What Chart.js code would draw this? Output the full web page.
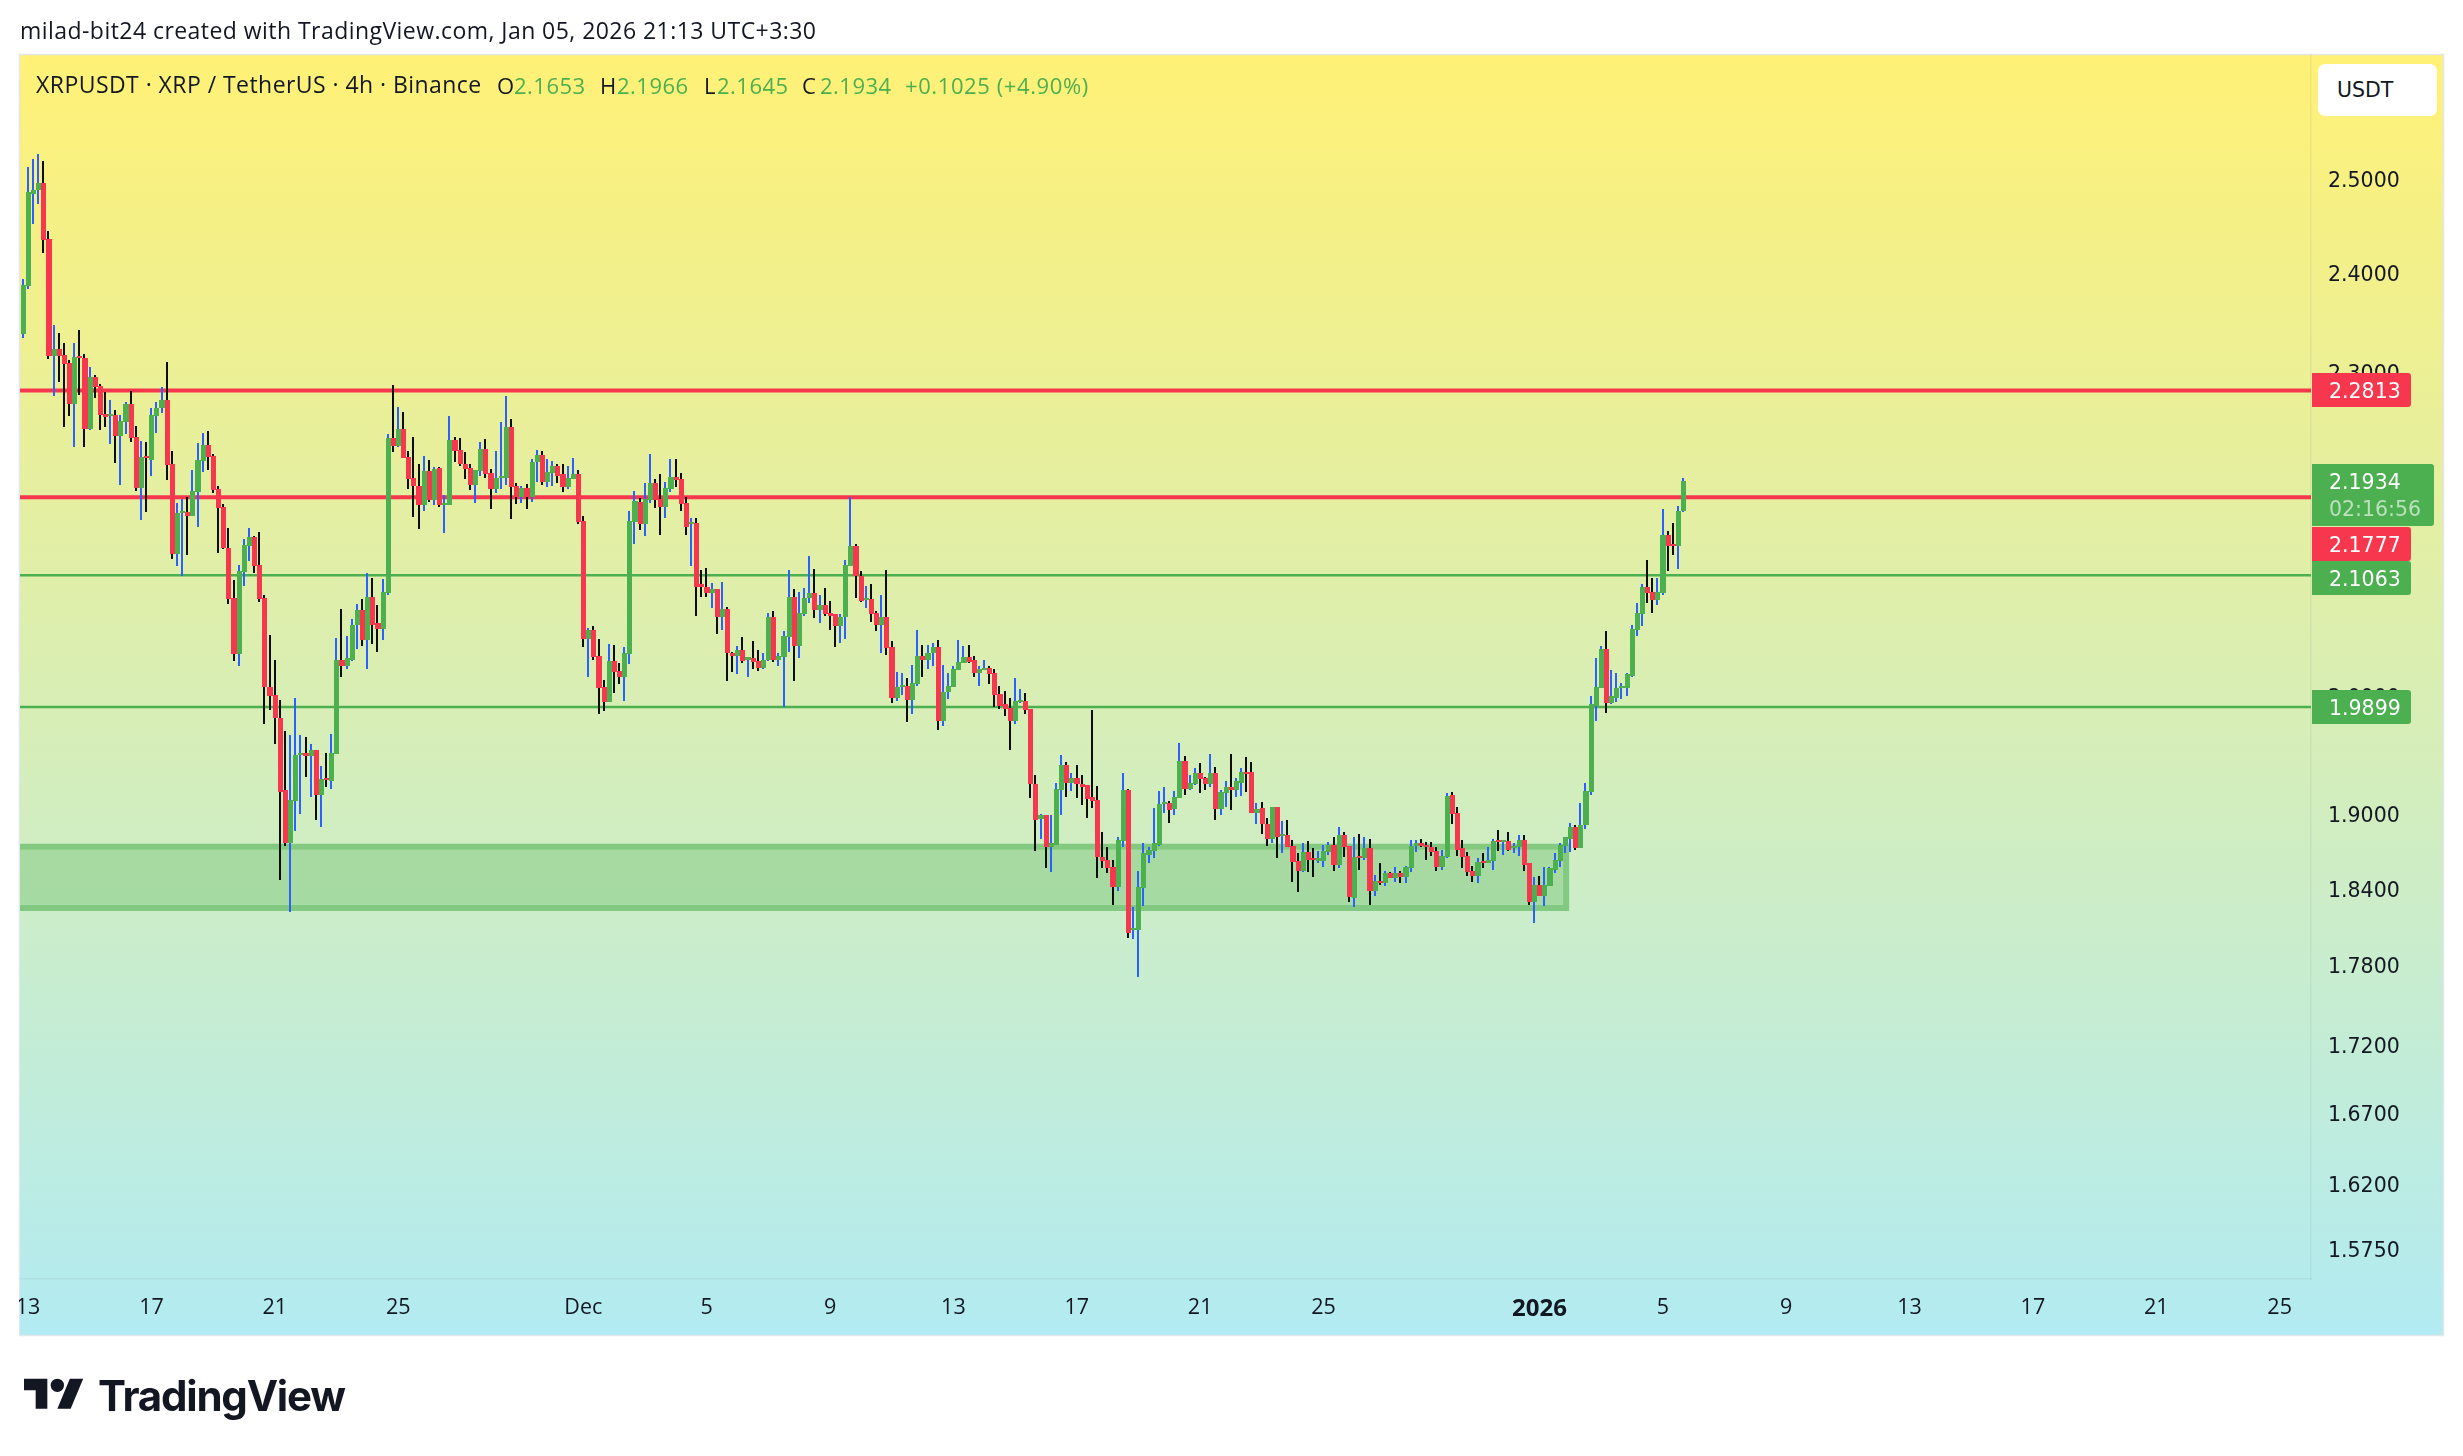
<!DOCTYPE html>
<html><head><meta charset="utf-8">
<style>
html,body{margin:0;padding:0;background:#fff;width:2463px;height:1456px;overflow:hidden}
#wrap{position:relative;width:2463px;height:1456px}
canvas{position:absolute;left:0;top:0}
.t{position:absolute;white-space:pre;font-family:"Open Sans",sans-serif;color:#131722;line-height:1;top:74px;font-size:22px}
.m{font-size:23px;letter-spacing:.45px}
.n{letter-spacing:.5px}
.g{color:#4caf50}
#usdt{position:absolute;left:2318px;top:64px;width:119px;height:52px;background:#fff;border-radius:7px;font:20.5px "DejaVu Sans",sans-serif;color:#131722;line-height:52px;padding-left:19px;box-sizing:border-box}
</style></head><body>
<div id="wrap">
<canvas id="c" width="2463" height="1456" style="width:2463px;height:1456px"></canvas>
<div class="t m" id="hdr" style="left:20px;top:19px">milad-bit24 created with TradingView.com, Jan 05, 2026 21:13 UTC+3:30</div>
<div class="t m" style="left:36px;top:73px">XRPUSDT · XRP / TetherUS · 4h · Binance</div>
<div class="t" style="left:497px">O</div><div class="t g n" style="left:514px">2.1653</div>
<div class="t" style="left:600px">H</div><div class="t g n" style="left:617px">2.1966</div>
<div class="t" style="left:704px">L</div><div class="t g n" style="left:717px">2.1645</div>
<div class="t" style="left:802px">C</div><div class="t g n" style="left:820px">2.1934</div>
<div class="t g" style="left:905px;letter-spacing:.6px">+0.1025 (+4.90%)</div>
<div id="usdt">USDT</div>
<svg style="position:absolute;left:24px;top:1372px" width="60" height="44" viewBox="0 0 36 26.4"><path fill="#131722" fill-rule="evenodd" d="M14 22H7V11H0V4h14v18zM28 22h-8l7.5-18h8L28 22z"/><circle fill="#131722" cx="20" cy="8" r="4"/></svg>
<div class="t" style="left:98px;top:1375px;font-family:Inter,sans-serif;font-weight:700;font-size:42px;letter-spacing:-1.2px">TradingView</div>
</div>
<script src="https://cdn.jsdelivr.net/npm/chart.js@4"></script>
<script>
const opens=[2.338,2.387,2.483,2.487,2.495,2.435,2.315,2.322,2.316,2.308,
2.268,2.315,2.313,2.244,2.295,2.286,2.258,2.256,2.257,2.237,
2.250,2.268,2.236,2.187,2.218,2.214,2.256,2.264,2.272,2.210,
2.126,2.164,2.165,2.161,2.183,2.213,2.228,2.218,2.186,2.169,
2.131,2.086,2.036,2.109,2.133,2.141,2.116,2.086,2.007,2.000,
1.980,1.920,1.876,1.911,1.949,1.951,1.948,1.953,1.916,1.930,
1.927,1.950,2.031,2.025,2.031,2.062,2.075,2.048,2.087,2.063,
2.058,2.090,2.235,2.227,2.244,2.217,2.197,2.189,2.171,2.203,
2.176,2.206,2.171,2.171,2.233,2.223,2.210,2.206,2.190,2.203,
2.224,2.201,2.186,2.197,2.197,2.246,2.189,2.179,2.187,2.179,
2.212,2.219,2.193,2.201,2.208,2.200,2.188,2.196,2.200,2.156,
2.049,2.057,2.034,2.007,1.994,2.030,2.021,2.016,2.036,2.155,
2.174,2.153,2.176,2.192,2.177,2.169,2.186,2.198,2.196,2.173,
2.153,2.154,2.098,2.096,2.090,2.094,2.069,2.076,2.037,2.034,
2.039,2.031,2.032,2.030,2.024,2.031,2.069,2.031,2.033,2.051,
2.087,2.043,2.071,2.086,2.090,2.075,2.079,2.072,2.071,2.061,
2.069,2.115,2.133,2.106,2.084,2.085,2.072,2.062,2.069,2.042,
1.998,2.008,2.008,1.996,2.010,2.034,2.031,2.037,2.042,1.978,
2.003,2.007,2.022,2.028,2.033,2.031,2.019,2.022,2.024,2.019,
2.001,1.992,1.989,1.978,1.994,1.995,1.988,1.925,1.896,1.899,
1.873,1.875,1.920,1.941,1.926,1.930,1.925,1.924,1.914,1.9115,
1.865,1.863,1.857,1.841,1.878,1.920,1.807,1.807,1.840,1.867,
1.870,1.875,1.908,1.909,1.904,1.913,1.944,1.921,1.925,1.934,
1.930,1.925,1.934,1.904,1.917,1.922,1.920,1.926,1.935,1.935,
1.901,1.905,1.892,1.880,1.906,1.882,1.883,1.874,1.862,1.854,
1.869,1.864,1.862,1.862,1.869,1.875,1.859,1.883,1.874,1.832,
1.866,1.864,1.872,1.838,1.846,1.844,1.852,1.848,1.852,1.849,
1.856,1.874,1.876,1.875,1.873,1.870,1.857,1.865,1.916,1.901,
1.872,1.866,1.854,1.850,1.862,1.860,1.862,1.879,1.877,1.878,
1.873,1.873,1.879,1.860,1.829,1.843,1.834,1.842,1.855,1.862,
1.874,1.880,1.889,1.872,1.891,1.918,1.991,2.006,2.040,1.993,
1.998,2.006,2.006,2.017,2.057,2.071,2.096,2.091,2.084,2.090,
2.143,2.135,2.133,2.1653];
const highs=[2.394,2.512,2.521,2.527,2.519,2.444,2.347,2.339,2.328,2.311,
2.328,2.342,2.317,2.304,2.297,2.288,2.280,2.272,2.262,2.257,
2.270,2.281,2.247,2.232,2.231,2.264,2.270,2.285,2.309,2.2225,
2.173,2.177,2.179,2.204,2.230,2.240,2.242,2.220,2.189,2.172,
2.150,2.102,2.116,2.140,2.150,2.142,2.146,2.088,2.053,2.031,
1.996,1.969,1.966,1.998,1.966,1.964,1.958,1.953,1.940,1.951,
1.967,2.050,2.076,2.052,2.067,2.080,2.085,2.108,2.104,2.079,
2.103,2.239,2.287,2.265,2.260,2.222,2.236,2.210,2.218,2.214,
2.207,2.207,2.181,2.256,2.236,2.235,2.2215,2.210,2.204,2.231,
2.234,2.205,2.222,2.250,2.276,2.253,2.192,2.189,2.191,2.215,
2.2234,2.2225,2.215,2.213,2.210,2.210,2.208,2.216,2.204,2.161,
2.059,2.061,2.049,2.013,2.045,2.044,2.028,2.042,2.166,2.184,
2.178,2.192,2.2195,2.196,2.200,2.193,2.215,2.215,2.201,2.179,
2.159,2.159,2.111,2.113,2.099,2.094,2.100,2.078,2.038,2.043,
2.051,2.033,2.047,2.039,2.037,2.072,2.074,2.037,2.056,2.111,
2.094,2.091,2.095,2.124,2.112,2.088,2.095,2.083,2.071,2.071,
2.120,2.179,2.135,2.110,2.097,2.098,2.074,2.088,2.111,2.047,
2.020,2.019,2.015,2.026,2.057,2.044,2.044,2.046,2.048,2.026,
2.019,2.025,2.048,2.043,2.044,2.034,2.025,2.031,2.025,2.023,
2.008,2.004,1.998,2.015,2.005,2.002,1.988,1.932,1.900,1.899,
1.899,1.926,1.949,1.943,1.934,1.941,1.932,1.924,1.987,1.923,
1.885,1.873,1.863,1.881,1.934,1.921,1.825,1.854,1.876,1.873,
1.905,1.919,1.922,1.911,1.919,1.959,1.948,1.932,1.938,1.942,
1.931,1.950,1.939,1.920,1.927,1.950,1.930,1.938,1.947,1.943,
1.909,1.910,1.897,1.906,1.906,1.894,1.895,1.879,1.868,1.876,
1.878,1.872,1.870,1.875,1.877,1.881,1.889,1.885,1.874,1.881,
1.884,1.881,1.880,1.851,1.860,1.854,1.853,1.857,1.854,1.858,
1.879,1.879,1.880,1.877,1.877,1.873,1.871,1.917,1.918,1.906,
1.879,1.869,1.858,1.864,1.868,1.873,1.880,1.887,1.879,1.885,
1.876,1.883,1.883,1.860,1.849,1.850,1.857,1.857,1.868,1.876,
1.881,1.893,1.891,1.909,1.926,1.999,2.032,2.043,2.056,2.022,
2.019,2.011,2.019,2.062,2.081,2.098,2.120,2.104,2.104,2.167,
2.147,2.154,2.170,2.1966];
const lows=[2.334,2.383,2.451,2.473,2.421,2.312,2.276,2.290,2.246,2.256,
2.226,2.277,2.226,2.243,2.274,2.243,2.246,2.229,2.211,2.190,
2.239,2.231,2.184,2.157,2.165,2.199,2.240,2.259,2.195,2.121,
2.115,2.106,2.125,2.161,2.151,2.202,2.204,2.182,2.127,2.130,
2.080,2.030,2.025,2.097,2.119,2.108,2.082,1.975,1.987,1.958,
1.847,1.874,1.821,1.886,1.900,1.931,1.914,1.895,1.889,1.922,
1.921,1.950,2.016,2.023,2.030,2.040,2.043,2.023,2.045,2.038,
2.048,2.088,2.221,2.226,2.216,2.186,2.160,2.149,2.166,2.174,
2.171,2.169,2.145,2.171,2.212,2.208,2.196,2.185,2.173,2.199,
2.197,2.167,2.182,2.186,2.190,2.158,2.172,2.173,2.167,2.174,
2.193,2.190,2.188,2.189,2.192,2.183,2.186,2.196,2.153,2.042,
2.016,2.031,1.984,1.986,1.994,2.002,2.010,1.995,2.027,2.135,
2.148,2.142,2.173,2.168,2.143,2.159,2.183,2.188,2.166,2.143,
2.115,2.070,2.087,2.087,2.077,2.054,2.057,2.012,2.020,2.018,
2.028,2.016,2.023,2.021,2.023,2.030,2.029,2.025,1.990,2.038,
2.012,2.032,2.070,2.081,2.068,2.063,2.070,2.057,2.042,2.046,
2.049,2.115,2.086,2.082,2.077,2.064,2.056,2.037,2.035,1.993,
1.995,2.000,1.977,1.984,2.008,2.016,2.023,2.025,1.970,1.974,
1.997,2.007,2.022,2.028,2.028,2.016,2.008,2.022,2.010,1.990,
1.988,1.982,1.953,1.975,1.993,1.984,1.913,1.870,1.880,1.856,
1.853,1.875,1.899,1.914,1.919,1.913,1.907,1.897,1.905,1.848,
1.856,1.852,1.827,1.838,1.873,1.801,1.800,1.771,1.826,1.860,
1.864,1.874,1.901,1.893,1.899,1.913,1.916,1.920,1.924,1.917,
1.920,1.922,1.895,1.899,1.906,1.903,1.914,1.915,1.918,1.901,
1.892,1.884,1.874,1.876,1.864,1.868,1.873,1.845,1.837,1.853,
1.853,1.849,1.860,1.857,1.867,1.854,1.856,1.865,1.829,1.825,
1.855,1.863,1.827,1.834,1.843,1.842,1.848,1.845,1.844,1.844,
1.853,1.869,1.873,1.863,1.866,1.854,1.855,1.864,1.892,1.866,
1.856,1.850,1.845,1.844,1.856,1.860,1.855,1.870,1.867,1.870,
1.868,1.866,1.854,1.827,1.813,1.834,1.826,1.842,1.852,1.857,
1.868,1.869,1.871,1.872,1.888,1.916,1.978,2.006,1.985,1.992,
1.994,1.997,1.999,2.016,2.052,2.061,2.081,2.072,2.079,2.088,
2.110,2.125,2.112,2.1645];
const closes=[2.388,2.485,2.488,2.495,2.434,2.315,2.3225,2.315,2.307,2.268,
2.314,2.313,2.244,2.295,2.285,2.257,2.255,2.258,2.237,2.251,
2.268,2.235,2.187,2.217,2.216,2.257,2.264,2.272,2.209,2.126,
2.164,2.166,2.161,2.184,2.214,2.228,2.217,2.185,2.168,2.131,
2.085,2.036,2.110,2.134,2.141,2.115,2.085,2.007,1.999,1.980,
1.918,1.876,1.9115,1.949,1.951,1.948,1.953,1.916,1.929,1.928,
1.951,2.031,2.025,2.032,2.062,2.075,2.048,2.087,2.062,2.058,
2.091,2.235,2.227,2.244,2.216,2.196,2.189,2.171,2.203,2.176,
2.205,2.171,2.173,2.233,2.2225,2.210,2.205,2.190,2.204,2.224,
2.200,2.186,2.197,2.199,2.246,2.188,2.179,2.187,2.179,2.212,
2.219,2.193,2.202,2.208,2.199,2.188,2.197,2.200,2.155,2.049,
2.057,2.033,2.006,1.994,2.030,2.020,2.016,2.037,2.156,2.175,
2.153,2.177,2.192,2.176,2.169,2.187,2.198,2.195,2.172,2.151,
2.155,2.096,2.096,2.090,2.094,2.069,2.076,2.037,2.034,2.039,
2.030,2.033,2.029,2.024,2.031,2.069,2.031,2.034,2.052,2.087,
2.043,2.072,2.086,2.090,2.075,2.079,2.071,2.070,2.061,2.069,
2.116,2.133,2.106,2.083,2.086,2.071,2.062,2.069,2.041,1.998,
2.007,2.009,1.996,2.011,2.034,2.031,2.037,2.042,1.978,2.003,
2.008,2.023,2.029,2.033,2.029,2.019,2.023,2.024,2.018,2.000,
1.991,1.988,1.978,1.995,1.996,1.987,1.925,1.895,1.899,1.873,
1.876,1.921,1.941,1.926,1.930,1.925,1.922,1.912,1.911,1.865,
1.862,1.856,1.841,1.879,1.920,1.805,1.809,1.841,1.868,1.871,
1.876,1.908,1.910,1.903,1.914,1.944,1.921,1.926,1.934,1.929,
1.925,1.934,1.904,1.918,1.922,1.920,1.927,1.935,1.934,1.901,
1.904,1.892,1.880,1.906,1.881,1.884,1.873,1.861,1.854,1.869,
1.863,1.863,1.864,1.870,1.875,1.859,1.883,1.873,1.833,1.865,
1.864,1.872,1.838,1.846,1.844,1.852,1.848,1.852,1.849,1.857,
1.874,1.876,1.874,1.873,1.869,1.857,1.866,1.915,1.900,1.871,
1.865,1.853,1.850,1.861,1.861,1.863,1.878,1.877,1.879,1.871,
1.874,1.879,1.859,1.829,1.843,1.834,1.843,1.856,1.863,1.875,
1.881,1.889,1.872,1.891,1.919,1.992,2.007,2.040,1.993,1.999,
2.006,2.008,2.018,2.058,2.072,2.096,2.090,2.084,2.091,2.143,
2.133,2.133,2.166,2.1934];
const resistanceLevels=[2.2813,2.1784];
const supportLevels=[2.1063,1.9899];
const zoneTop=1.8733, zoneBottom=1.8245, zoneEndIndex=300.2;
const priceTicks=[2.5,2.4,2.3,2.2,2.1,2.0,1.9,1.84,1.78,1.72,1.67,1.62,1.575];
const timeTickIndex=[1,25,49,73,109,133,157,181,205,229,253,295,319,343,367,391,415,439];
const timeTickLabels=['13','17','21','25','Dec','5','9','13','17','21','25','2026','5','9','13','17','21','25'];
const priceTags=[
 {v:2.2813,txt:'2.2813',col:'#f7374d'},
 {v:2.1934,txt:'2.1934',sub:'02:16:56',col:'#4caf50'},
 {v:2.1777,txt:'2.1777',col:'#f7374d'},
 {v:2.1063,txt:'2.1063',col:'#4caf50'},
 {v:1.9899,txt:'1.9899',col:'#4caf50'}];

const UP='#4caf50',DN='#f7374d',WUP='#2962ff',WDN='#0d0d0d';
const xMin=-0.58,xMax=445.1;
const isUp=i=>closes[i]>=opens[i];
const bodies=opens.map((o,i)=>({x:i,y:[o,closes[i]]}));
const wicks=lows.map((l,i)=>({x:i,y:[l,highs[i]]}));
const hline=v=>[{x:xMin,y:v},{x:xMax,y:v}];
const datasets=[
 {type:'bar',data:bodies,order:0,barThickness:5,grouped:false,inflateAmount:0,backgroundColor:opens.map((_,i)=>isUp(i)?UP:DN),borderWidth:0},
 {type:'bar',data:wicks,order:1,barThickness:2,grouped:false,inflateAmount:0,backgroundColor:opens.map((_,i)=>isUp(i)?WUP:WDN),borderWidth:0},
 ...resistanceLevels.map(v=>({type:'line',data:hline(v),order:2,borderColor:DN,borderWidth:4,pointRadius:0})),
 ...supportLevels.map(v=>({type:'line',data:hline(v),order:2,borderColor:UP,borderWidth:2.4,pointRadius:0}))
];
const framePlugin={id:'frame',
 afterDatasetsUpdate(ch){
  const pitch=ch.scales.x.getPixelForValue(1)-ch.scales.x.getPixelForValue(0);
  ch.getDatasetMeta(0).data.forEach(el=>{
    const l=Math.round(el.x-2.3),r=Math.round(el.x+pitch-2.3);
    el.x=(l+r)/2;el.width=r-l;
    const t=Math.round(Math.min(el.y,el.base));let b=Math.round(Math.max(el.y,el.base));if(b-t<2)b=t+2;
    el.y=t;el.base=b;el.height=b-t;});
  ch.getDatasetMeta(1).data.forEach(el=>{
    el.x=Math.round(el.x-1.2)+1;el.width=2;
    const t=Math.round(Math.min(el.y,el.base)),b=Math.round(Math.max(el.y,el.base));
    el.y=t;el.base=b;el.height=b-t;});
 },
 beforeDraw(ch){const c=ch.ctx;const g=c.createLinearGradient(0,55,0,1335);g.addColorStop(0,'#fff176');g.addColorStop(1,'#b2ebf2');
  c.save();c.fillStyle=g;c.fillRect(20,55,2423,1280);
  c.strokeStyle='rgba(224,227,235,.9)';c.lineWidth=1.5;c.strokeRect(19.5,54.5,2424,1281);c.restore();},
 beforeDatasetsDraw(ch){const {x,y}=ch.scales,c=ch.ctx;const yt=y.getPixelForValue(zoneTop),yb=y.getPixelForValue(zoneBottom),xr=x.getPixelForValue(zoneEndIndex);
  c.save();c.fillStyle='rgba(76,175,80,.3)';c.fillRect(20,yt+3,xr-3-20,yb-yt-6);
  c.strokeStyle='rgba(76,175,80,.58)';c.lineWidth=6;c.lineJoin='miter';c.beginPath();c.moveTo(20,yt);c.lineTo(xr,yt);c.lineTo(xr,yb);c.lineTo(20,yb);c.stroke();c.restore();},
 afterDraw(ch){const {y}=ch.scales,c=ch.ctx;c.save();
  c.fillStyle='#fff';c.fillRect(0,1280,19,56);
  let prev=0;c.textBaseline='middle';c.font='20.5px "DejaVu Sans"';
  priceTags.forEach(t=>{const p=y.getPixelForValue(t.v);const h=t.sub?62:34;const top=Math.max(Math.round(p-17),prev);const w=t.sub?122:99;
   c.fillStyle=t.col;c.beginPath();c.roundRect(2312,top,w,h,[0,3,3,0]);c.fill();
   c.fillStyle='#fff';c.textAlign='left';c.fillText(t.txt,2329,top+19.5);
   if(t.sub){c.fillStyle='rgba(255,255,255,.62)';c.fillText(t.sub,2329,top+46.5);}
   prev=top+h+(t.sub?1:0);});
  c.restore();}};
new Chart(document.getElementById('c'),{
 data:{datasets},plugins:[framePlugin],
 options:{responsive:false,animation:false,devicePixelRatio:1,
  layout:{autoPadding:false,padding:{left:20,top:55,right:20,bottom:121}},
  plugins:{legend:{display:false},tooltip:{enabled:false},title:{display:false}},
  scales:{
   x:{type:'linear',min:xMin,max:xMax,offset:false,bounds:'data',
    grid:{display:false,drawTicks:false},border:{color:'rgba(120,130,140,.1)',width:1.5},
    afterBuildTicks(s){s.ticks=timeTickIndex.map(v=>({value:v}));},
    afterFit(s){s.height=56;s.paddingLeft=0;s.paddingRight=0;},
    ticks:{autoSkip:false,maxRotation:0,minRotation:0,padding:16,color:'#131722',
     callback:(v,i)=>timeTickLabels[i],
     font:ctx=>({family:'"Open Sans"',size:timeTickLabels[ctx.index]==='2026'?24:21.5,weight:timeTickLabels[ctx.index]==='2026'?'bold':'normal'})}},
   y:{type:'logarithmic',position:'right',min:1.5544,max:2.6368,bounds:'data',
    grid:{display:false,drawTicks:false},border:{color:'rgba(120,130,140,.1)',width:1.5},
    afterBuildTicks(s){s.ticks=priceTicks.map(v=>({value:v}));},
    afterFit(s){s.width=132;s.paddingTop=0;s.paddingBottom=0;},
    ticks:{autoSkip:false,padding:17,labelOffset:3,color:'#131722',font:{family:'"DejaVu Sans"',size:20.5},
     callback:v=>Number(v).toFixed(4)}}
  }}});
</script>
</body></html>
